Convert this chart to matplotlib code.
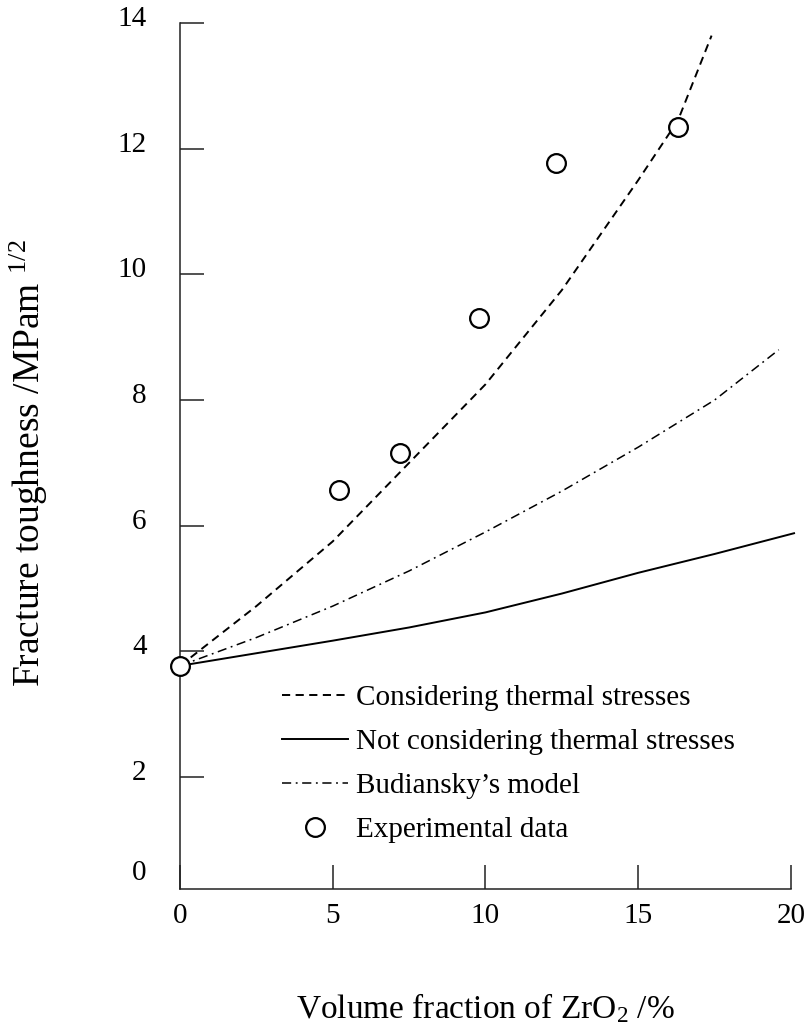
import numpy as np
import matplotlib
matplotlib.use("Agg")
import matplotlib.pyplot as plt
from matplotlib.transforms import ScaledTranslation

plt.rcParams['font.family'] = ['Liberation Serif', 'DejaVu Serif']
plt.rcParams['mathtext.fontset'] = 'custom'
plt.rcParams['mathtext.rm'] = 'Liberation Serif'
plt.rcParams['mathtext.it'] = 'Liberation Serif:italic'

# experimental points
exp_x = [0, 5.2, 7.2, 9.8, 12.3, 16.3]
exp_y = [3.77, 6.57, 7.16, 9.31, 11.77, 12.35]

# considering thermal stresses (dashed)
thermal_x = [0, 2.5, 5, 7.5, 10, 12.5, 15, 16.3, 17.4]
thermal_y = [3.77, 4.72, 5.75, 7.0, 8.25, 9.75, 11.5, 12.45, 13.8]

# not considering thermal stresses (solid)
plain_x = [0, 2.5, 5, 7.5, 10, 12.5, 15, 17.5, 20.1]
plain_y = [3.77, 3.97, 4.17, 4.38, 4.62, 4.92, 5.25, 5.55, 5.88]

# Budiansky's model (dash-dot)
bud_x = [0, 2.5, 5, 7.5, 10, 12.5, 15, 17.5, 19.6]
bud_y = [3.77, 4.22, 4.72, 5.28, 5.9, 6.55, 7.25, 8.0, 8.8]

x_ticks = [0, 5, 10, 15, 20]
y_ticks = [2, 4, 6, 8, 10, 12, 14]

fig = plt.figure(figsize=(8.05, 10.24), dpi=100)
ax = fig.add_axes([0.2236, 0.1318, 0.759, 0.8457])

ax.plot(thermal_x, thermal_y, color='black', lw=1.4, dashes=(4.2, 2.8),
        clip_on=False, label='Considering thermal stresses')
ax.plot(plain_x, plain_y, color='black', lw=1.4, ls='-',
        clip_on=False, label='Not considering thermal stresses')
ax.plot(bud_x, bud_y, color='black', lw=1.1, dashes=(6, 3, 1.2, 3),
        clip_on=False, label='Budiansky\u2019s model')
ax.plot(exp_x, exp_y, ls='none', marker='o', ms=13.5, mfc='white',
        mec='black', mew=1.6, clip_on=False, zorder=5,
        label='Experimental data')

ax.set_xlim(0, 20)
ax.set_ylim(0.217, 14)
ax.set_xticks(x_ticks)
ax.set_yticks(y_ticks)
ax.set_xticklabels([str(v) for v in x_ticks])
ax.set_yticklabels([str(v) for v in y_ticks])

for s in ['top', 'right']:
    ax.spines[s].set_visible(False)
for s in ['left', 'bottom']:
    ax.spines[s].set_linewidth(1.1)
    ax.spines[s].set_color('#222222')

ax.tick_params(axis='both', direction='in', length=17, width=1.1,
               color='#222222', labelsize=21)
ax.tick_params(axis='y', pad=24)
ax.tick_params(axis='x', pad=10)

for lab in ax.get_yticklabels():
    lab.set_transform(lab.get_transform() +
                      ScaledTranslation(0, 5 / 72, fig.dpi_scale_trans))

# zero label of the y axis sits just above the corner
ax.annotate('0', xy=(0, 0), xycoords='axes fraction',
            xytext=(-24.5, 11.5), textcoords='offset points',
            ha='right', va='center', fontsize=21)

ax.set_xlabel('Volume fraction of ZrO$_2$ /%', fontsize=24)
ax.xaxis.set_label_coords(0.5, -0.118)
ax.set_ylabel('Fracture toughness /MPam $^{1/2}$', fontsize=27)
ax.yaxis.set_label_coords(-0.212, 0.492)

ax.legend(loc='upper left', bbox_to_anchor=(0.350, 0.331),
          bbox_transform=fig.transFigure, frameon=False, fontsize=21,
          handlelength=2.26, handletextpad=0.27, labelspacing=0.6,
          borderpad=0, borderaxespad=0, numpoints=1)

fig.savefig('out.png', dpi=100)
